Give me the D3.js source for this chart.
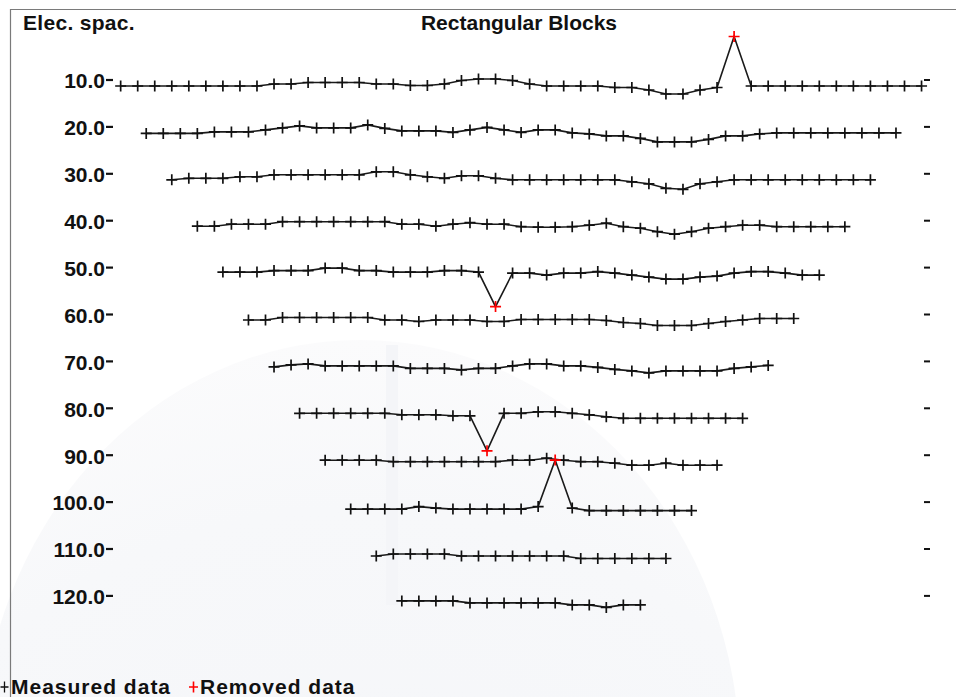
<!DOCTYPE html>
<html>
<head>
<meta charset="utf-8">
<script src="https://cdn.jsdelivr.net/npm/d3@7"></script>
<style>
  html, body { margin: 0; padding: 0; background: #fff; }
  svg { display: block; }
</style>
</head>
<body>
<svg id="chart" width="956" height="697"></svg>
<script>
// Electrode spacings (m) of the Wenner pseudosection rows
const spacings = [10, 20, 30, 40, 50, 60, 70, 80, 90, 100, 110, 120];

// Apparent resistivity (ohm-m) along each row, first datum at 1.5a, step 10 m
const rho10  = [100,100,100,100,100,100,100,100,100,104,104,107,107,107,107,104,104,101,101,104,111,114,114,111,104,100,100,100,100,97,97,92,84,84,92,97,199,100,100,100,100,100,100,100,100,100,100,100];
const rho20  = [99,99,99,99,102,102,102,106,110,114,110,110,110,116,109,104,104,104,101,106,111,106,101,106,106,100,98,94,94,89,82,82,82,87,94,94,98,100,100,100,100,100,100,100,100];
const rho30  = [100,103,103,103,106,106,110,110,110,110,110,110,116,116,110,106,103,108,108,103,100,100,100,100,100,100,100,96,92,83,81,92,96,100,100,100,100,100,100,100,100,100];
const rho40  = [101,101,105,105,105,110,110,110,110,110,110,110,105,105,101,105,108,105,105,100,99,99,100,103,107,100,97,90,85,90,97,100,103,103,100,100,100,100,100];
const rho50  = [103,103,103,106,106,106,111,111,106,106,103,103,103,106,106,103,34,101,101,97,101,101,104,101,97,93,89,89,93,95,101,104,104,101,97,97];
const rho60  = [101,101,106,106,106,106,106,106,101,101,98,101,101,101,98,98,102,102,102,102,102,100,96,94,90,90,90,94,98,101,104,104,104];
const rho70  = [101,105,107,103,103,103,103,103,98,98,98,95,98,98,103,107,107,103,103,100,96,93,89,93,93,93,93,98,101,104];
const rho80  = [102,102,102,102,102,102,99,99,99,97,97,27,102,102,105,105,102,99,95,92,92,92,92,92,92,92,92];
const rho90  = [102,102,102,102,99,99,99,99,99,99,99,102,102,106,102,99,99,96,92,92,96,92,92,92];
const rho100 = [98,98,98,98,103,100,98,98,98,98,98,103,196,100,95,95,95,95,95,95,95];
const rho110 = [98,102,102,102,102,98,98,98,98,98,98,98,93,93,93,93,93,93];
const rho120 = [102,102,102,102,98,98,98,98,98,98,94,94,89,94,94];

// Data points flagged as bad and removed (row spacing, position index in row)
const removedSpacing = [10, 50, 80, 100];
const removedIndex   = [36, 16, 11, 12];

const rhoRows = [rho10, rho20, rho30, rho40, rho50, rho60, rho70, rho80, rho90, rho100, rho110, rho120];

const titleText = "Rectangular Blocks";
const axisTitle = "Elec. spac.";
const legendMeasured = "Measured data";
const legendRemoved = "Removed data";

const W = 956, H = 697;
const FONT = "'Liberation Sans', Arial, Helvetica, sans-serif";
const svg = d3.select("#chart");

// ---- faint background emblem ----
const defs = svg.append("defs");
const grad = defs.append("radialGradient").attr("id", "dome")
  .attr("cx", "50%").attr("cy", "100%").attr("r", "100%");
grad.append("stop").attr("offset", "0%").attr("stop-color", "#f3f4f8");
grad.append("stop").attr("offset", "80%").attr("stop-color", "#f7f8fa");
grad.append("stop").attr("offset", "100%").attr("stop-color", "#fbfbfc");
svg.append("ellipse")
  .attr("cx", 360).attr("cy", 760).attr("rx", 380).attr("ry", 420)
  .attr("fill", "url(#dome)");
svg.append("rect").attr("x", 386).attr("y", 345).attr("width", 12).attr("height", 260)
  .attr("fill", "#f4f5f8");

// ---- frame ----
svg.append("line").attr("x1", 10.5).attr("x2", 10.5).attr("y1", 9).attr("y2", H)
  .attr("stroke", "#7a7a7a").attr("stroke-width", 1.2);
svg.append("line").attr("x1", 10).attr("x2", W).attr("y1", 9.5).attr("y2", 9.5)
  .attr("stroke", "#7a7a7a").attr("stroke-width", 1.2);

// ---- scales ----
const x = d3.scaleLinear().domain([0, 500]).range([95.1, 947.1]);        // metres along line
const rowY = d3.scaleLinear().domain([10, 120]).range([86, 601.9]);       // row per spacing
const dev = d3.scaleLinear().domain([0, 200]).range([50, -50]);           // resistivity offset

const rows = spacings.map((a, k) => ({
  a,
  pts: rhoRows[k].map((r, i) => ({
    m: 1.5 * a + 10 * i,
    rho: r,
    removed: removedSpacing.some((s, j) => s === a && removedIndex[j] === i)
  }))
}));

// ---- titles ----
svg.append("text").attr("x", 23).attr("y", 29.5)
  .attr("font-family", FONT).attr("font-weight", "bold").attr("font-size", 21)
  .attr("letter-spacing", 0.3).attr("fill", "#111").text(axisTitle);
svg.append("text").attr("x", 519).attr("y", 29.5).attr("text-anchor", "middle")
  .attr("font-family", FONT).attr("font-weight", "bold").attr("font-size", 21)
  .attr("fill", "#111").text(titleText);

// ---- row labels and ticks ----
const fmt = d3.format(".1f");
const lab = svg.append("g");
lab.selectAll("text").data(spacings).join("text")
  .attr("x", 105).attr("y", a => rowY(a) + 2.3).attr("text-anchor", "end")
  .attr("font-family", FONT).attr("font-weight", "bold").attr("font-size", 21)
  .attr("fill", "#111").text(a => fmt(a));
lab.selectAll("line.l").data(spacings).join("line").attr("class", "l")
  .attr("x1", 106).attr("x2", 113).attr("y1", a => rowY(a) - 6).attr("y2", a => rowY(a) - 6)
  .attr("stroke", "#111").attr("stroke-width", 2.2);
lab.selectAll("line.r").data(spacings).join("line").attr("class", "r")
  .attr("x1", 924).attr("x2", 930).attr("y1", a => rowY(a) - 6).attr("y2", a => rowY(a) - 6)
  .attr("stroke", "#111").attr("stroke-width", 2);

// ---- profiles ----
const crossPath = s => `M${-s},0H${s}M0,${-s}V${s}`;
const g = svg.append("g");
rows.forEach(row => {
  const yOf = d => rowY(row.a) + dev(d.rho);
  const line = d3.line().x(d => x(d.m)).y(yOf);
  g.append("path").datum(row.pts).attr("d", line)
    .attr("fill", "none").attr("stroke", "#1a1a1a").attr("stroke-width", 1.6);
  g.selectAll(null).data(row.pts).join("path")
    .attr("transform", d => `translate(${x(d.m)},${yOf(d)})`)
    .attr("d", crossPath(5.5))
    .attr("fill", "none")
    .attr("stroke", d => d.removed ? "#ff0000" : "#111")
    .attr("stroke-width", 1.7);
});

// ---- legend ----
const leg = svg.append("g");
leg.append("path").attr("transform", "translate(4.5,687)").attr("d", "M-4,0H4M0,-5.5V5.5")
  .attr("fill", "none").attr("stroke", "#111").attr("stroke-width", 1.3);
leg.append("text").attr("x", 11).attr("y", 693.5)
  .attr("font-family", FONT).attr("font-weight", "bold").attr("font-size", 21)
  .attr("letter-spacing", 1).attr("fill", "#111").text(legendMeasured);
leg.append("path").attr("transform", "translate(193.5,687)").attr("d", "M-4.5,0H4.5M0,-5.5V5.5")
  .attr("fill", "none").attr("stroke", "#ff0000").attr("stroke-width", 1.6);
leg.append("text").attr("x", 200).attr("y", 693.5)
  .attr("font-family", FONT).attr("font-weight", "bold").attr("font-size", 21)
  .attr("letter-spacing", 1).attr("fill", "#111").text(legendRemoved);
</script>
</body>
</html>
